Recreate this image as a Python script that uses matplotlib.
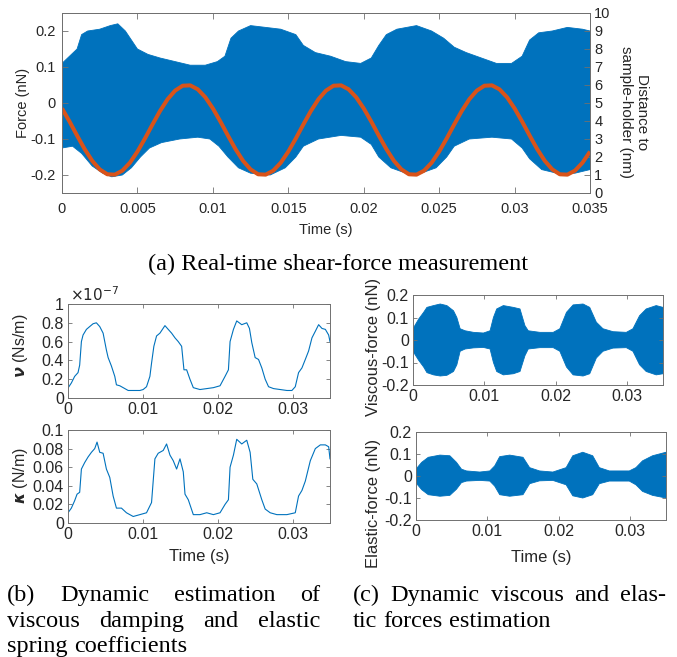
import matplotlib
matplotlib.use('Agg')
import matplotlib.pyplot as plt
from matplotlib.ticker import FormatStrFormatter
import numpy as np

BLUE = '#0072BD'
ORANGE = '#D95319'
SPINE = '#707070'
TXT = '#262626'
SANS = 'Liberation Sans'
SERIF = 'Liberation Serif'

# ---------------- (a) real-time shear-force measurement ----------------
force_up_t = [0.0, 0.0005, 0.0010, 0.0013, 0.0017, 0.0025, 0.0032, 0.0037, 0.0042, 0.0046,
              0.0050, 0.0057, 0.0065, 0.0075, 0.0085, 0.0095, 0.0103, 0.0108, 0.0112, 0.0117,
              0.0125, 0.0135, 0.0145, 0.0155, 0.0160, 0.0168, 0.0178, 0.0188, 0.0198, 0.0205,
              0.0210, 0.0215, 0.0222, 0.0235, 0.0245, 0.0253, 0.0260, 0.0268, 0.0278, 0.0288,
              0.0298, 0.0305, 0.0310, 0.0316, 0.0325, 0.0335, 0.0345, 0.0350]
force_up = [0.11, 0.13, 0.15, 0.19, 0.20, 0.205, 0.215, 0.22, 0.20, 0.175,
            0.15, 0.135, 0.125, 0.115, 0.105, 0.105, 0.115, 0.13, 0.18, 0.20,
            0.215, 0.21, 0.205, 0.19, 0.16, 0.14, 0.13, 0.115, 0.11, 0.125,
            0.16, 0.19, 0.205, 0.215, 0.20, 0.18, 0.155, 0.14, 0.125, 0.11,
            0.11, 0.13, 0.175, 0.195, 0.20, 0.21, 0.205, 0.20]
force_lo_t = [0.0, 0.0007, 0.0013, 0.0020, 0.0027, 0.0033, 0.0040, 0.0046, 0.0052, 0.0058,
              0.0066, 0.0078, 0.0090, 0.0098, 0.0104, 0.0110, 0.0117, 0.0125, 0.0138, 0.0148,
              0.0155, 0.0160, 0.0170, 0.0185, 0.0198, 0.0205, 0.0210, 0.0218, 0.0228, 0.0238,
              0.0248, 0.0255, 0.0260, 0.0270, 0.0285, 0.0298, 0.0305, 0.0310, 0.0318, 0.0328,
              0.0340, 0.0350]
force_lo = [-0.125, -0.12, -0.14, -0.175, -0.195, -0.205, -0.20, -0.18, -0.15, -0.125,
            -0.11, -0.10, -0.095, -0.10, -0.12, -0.15, -0.18, -0.195, -0.20, -0.18,
            -0.15, -0.12, -0.10, -0.09, -0.095, -0.115, -0.15, -0.18, -0.195, -0.195,
            -0.18, -0.15, -0.12, -0.10, -0.095, -0.10, -0.125, -0.155, -0.185, -0.195,
            -0.195, -0.185]

dist_t = [i * 0.0005 for i in range(71)]
dist_nm = [4.70, 3.97, 3.19, 2.44, 1.79, 1.31, 1.04, 1.02, 1.24, 1.68, 2.30, 3.03, 3.81, 4.56,
           5.21, 5.69, 5.96, 5.98, 5.76, 5.32,
           4.70, 3.97, 3.19, 2.44, 1.79, 1.31, 1.04, 1.02, 1.24, 1.68, 2.30, 3.03, 3.81, 4.56,
           5.21, 5.69, 5.96, 5.98, 5.76, 5.32,
           4.70, 3.97, 3.19, 2.44, 1.79, 1.31, 1.04, 1.02, 1.24, 1.68, 2.30, 3.03, 3.81, 4.56,
           5.21, 5.69, 5.96, 5.98, 5.76, 5.32,
           4.70, 3.97, 3.19, 2.44, 1.79, 1.31, 1.04, 1.02, 1.24, 1.68, 2.30]

# ---------------- (b) viscous damping / elastic spring coefficients ----------------
nu_t = [0, .00045, .00089, .00134, .00156, .00179, .00201, .00246, .0029, .00335, .00379, .00424,
        .00469, .00513, .00536, .0058, .00625, .00647, .00692, .00737, .00804, .00871, .0096,
        .01004, .01049, .01094, .01116, .01147, .01183, .01228, .01295, .01339, .01384, .01429,
        .01473, .01518, .01549, .01585, .01629, .01674, .01763, .01853, .01942, .02031, .02098,
        .02143, .02165, .0221, .02254, .02321, .02388, .02424, .02455, .025, .02545, .02589,
        .02634, .02679, .02746, .02835, .02924, .02991, .03036, .0308, .03125, .0317, .03214,
        .03259, .03304, .03348, .03393, .03438, .03482, .035]
nu_e7 = [.106, .16, .23, .27, .35, .60, .67, .73, .76, .79, .80, .76, .69, .51, .43, .34, .23, .14,
         .13, .11, .08, .08, .08, .09, .12, .23, .37, .55, .66, .69, .77, .73, .69, .64, .60, .55,
         .30, .30, .20, .11, .09, .10, .11, .13, .23, .30, .60, .73, .82, .78, .80, .74, .59, .43,
         .41, .32, .20, .12, .10, .09, .08, .08, .12, .27, .32, .41, .50, .64, .71, .78, .74, .73,
         .67, .60]

kappa_t = [0, .00045, .00089, .00121, .00156, .00179, .00223, .00268, .00313, .00357, .00388,
           .00424, .00469, .00513, .00558, .00603, .00647, .00714, .00781, .00871, .0096, .01049,
           .01116, .01161, .01205, .01272, .01317, .01362, .01406, .01451, .01496, .0154, .01563,
           .01607, .01674, .01763, .01853, .01942, .02031, .02098, .02143, .02165, .0221, .02254,
           .02321, .02388, .02433, .02469, .02522, .02589, .02634, .02701, .0279, .02924, .03036,
           .0308, .03125, .0317, .03237, .03304, .03371, .03438, .03482, .035]
kappa = [.011, .016, .024, .031, .033, .058, .065, .071, .076, .080, .087, .076, .075, .058, .049,
         .029, .016, .016, .011, .007, .009, .011, .022, .069, .075, .078, .085, .073, .067, .058,
         .069, .055, .031, .025, .009, .009, .011, .009, .011, .020, .025, .060, .073, .090, .085,
         .089, .076, .047, .042, .025, .015, .011, .009, .009, .011, .029, .035, .045, .067, .080,
         .084, .084, .082, .069]

# ---------------- (c) viscous / elastic forces ----------------
visc_t = [0, .00079, .00149, .00195, .00288, .00381, .00474, .00567, .00614, .0066, .0073, .00847,
          .00986, .01079, .01126, .01172, .01265, .01405, .01498, .01567, .01614, .01777, .01963,
          .02056, .02149, .02242, .02381, .02474, .02567, .0266, .028, .02986, .03079, .03172,
          .03265, .03405, .035]
visc_up = [.05, .093, .123, .145, .153, .16, .153, .13, .10, .05, .041, .034, .031, .041, .10, .138,
           .153, .145, .138, .064, .041, .034, .034, .05, .123, .156, .16, .145, .079, .05, .037,
           .034, .05, .108, .138, .153, .145]
visc_lo = [-.05, -.09, -.12, -.145, -.155, -.16, -.157, -.14, -.11, -.05, -.04, -.035, -.033, -.04,
           -.1, -.14, -.155, -.15, -.14, -.07, -.04, -.034, -.034, -.05, -.12, -.155, -.16, -.15,
           -.08, -.05, -.036, -.034, -.05, -.11, -.14, -.155, -.15]

elas_t = [0, .00079, .00172, .00335, .00474, .00567, .00637, .00707, .00893, .01033, .01102,
          .01172, .01312, .01498, .01591, .0173, .01916, .02102, .02195, .02335, .02474, .02567,
          .02707, .02986, .03079, .03172, .03312, .035]
elas_up = [.031, .062, .085, .095, .092, .062, .031, .023, .018, .023, .046, .088, .095, .085, .038,
           .023, .018, .038, .092, .108, .092, .038, .023, .023, .038, .069, .092, .108]
elas_lo = [-.031, -.062, -.085, -.092, -.088, -.06, -.03, -.023, -.02, -.023, -.046, -.085, -.092,
           -.085, -.035, -.022, -.02, -.04, -.09, -.10, -.085, -.035, -.023, -.023, -.04, -.07,
           -.088, -.10]

W, H = 677, 657
fig = plt.figure(figsize=(W / 100, H / 100), dpi=100)
fig.patch.set_facecolor('white')


def px_axes(l, r, t, b):
    return fig.add_axes([l / W, 1 - b / H, (r - l) / W, (b - t) / H])


def style(ax, fs, ticklen, top=True, right=True, xpad=3, ypad=3):
    for s in ax.spines.values():
        s.set_color(SPINE)
        s.set_linewidth(0.7)
    ax.tick_params(direction='in', length=ticklen, width=0.6, color=SPINE,
                   labelsize=fs, labelcolor=TXT, top=top, right=right)
    ax.tick_params(axis='x', pad=xpad)
    ax.tick_params(axis='y', pad=ypad)
    for lab in ax.get_xticklabels() + ax.get_yticklabels():
        lab.set_family(SANS)


def envelope(ax, tu, up, tl, lo):
    xs = list(tu) + list(tl)[::-1]
    ys = list(up) + list(lo)[::-1]
    ax.fill(xs, ys, color=BLUE, lw=0.6, ec=BLUE)


fmt = FormatStrFormatter('%g')

# ---- top panel
ax = px_axes(62, 590, 13, 193)
envelope(ax, force_up_t, force_up, force_lo_t, force_lo)
ax.set_xlim(0, 0.035)
ax.set_ylim(-0.25, 0.25)
ax.set_xticks(np.arange(0, 0.0351, 0.005))
ax.set_yticks([-0.2, -0.1, 0, 0.1, 0.2])
ax.xaxis.set_major_formatter(fmt)
ax.yaxis.set_major_formatter(fmt)
style(ax, 10.5, 4, top=True, right=False, xpad=6.5, ypad=4.5)
ax.set_xlabel('Time (s)', fontsize=10.5, family=SANS, color=TXT, labelpad=5)
ax.set_ylabel('Force (nN)', fontsize=10.5, family=SANS, color=TXT)
ax.yaxis.set_label_coords(-0.061, 0.5)

ax2 = ax.twinx()
ax2.plot(dist_t, dist_nm, color=ORANGE, lw=2.9, solid_capstyle='butt')
ax2.set_ylim(0, 10)
ax2.set_yticks(range(0, 11))
ax2.set_xlim(0, 0.035)
for s in ax2.spines.values():
    s.set_color(SPINE)
    s.set_linewidth(0.7)
ax2.tick_params(direction='in', length=4, width=0.6, color=SPINE, labelsize=10.5,
                labelcolor=TXT, pad=3)
for lab in ax2.get_yticklabels():
    lab.set_family(SANS)
fig.text(634 / W, 1 - 112 / H, 'Distance to\nsample-holder (nm)', rotation=270,
         ha='center', va='center', multialignment='center', fontsize=11, family=SANS,
         color=TXT, linespacing=1.15)

# ---- (b) nu
axn = px_axes(68, 330, 304, 398)
axn.plot(nu_t, nu_e7, color=BLUE, lw=0.8)
axn.set_xlim(0, 0.035)
axn.set_ylim(0, 1)
axn.set_xticks([0, 0.01, 0.02, 0.03])
axn.set_yticks([0, 0.2, 0.4, 0.6, 0.8, 1])
axn.xaxis.set_major_formatter(fmt)
axn.yaxis.set_major_formatter(fmt)
style(axn, 11.5, 3)
fig.text(70 / W, 1 - 295 / H, r'$\times10^{-7}$', ha='left', va='center', fontsize=11,
         color=TXT)
fig.text(20 / W, 1 - 346 / H, r'$\mathbfit{\nu}$ (Ns/m)', rotation=90, ha='center',
         va='center', fontsize=11.5, family=SANS, color=TXT)

# ---- (b) kappa
axk = px_axes(68, 330, 430, 523)
axk.plot(kappa_t, kappa, color=BLUE, lw=0.8)
axk.set_xlim(0, 0.035)
axk.set_ylim(0, 0.1)
axk.set_xticks([0, 0.01, 0.02, 0.03])
axk.set_yticks([0, 0.02, 0.04, 0.06, 0.08, 0.1])
axk.xaxis.set_major_formatter(fmt)
axk.yaxis.set_major_formatter(fmt)
style(axk, 11.5, 3)
axk.set_xlabel('Time (s)', fontsize=12, family=SANS, color=TXT, labelpad=5)
fig.text(20 / W, 1 - 476 / H, r'$\mathbfit{\kappa}$ (N/m)', rotation=90, ha='center',
         va='center', fontsize=11.5, family=SANS, color=TXT)

# ---- (c) viscous force
axv = px_axes(413, 663, 295, 385)
envelope(axv, visc_t, visc_up, visc_t, visc_lo)
axv.set_xlim(0, 0.035)
axv.set_ylim(-0.2, 0.2)
axv.set_xticks([0, 0.01, 0.02, 0.03])
axv.set_yticks([-0.2, -0.1, 0, 0.1, 0.2])
axv.xaxis.set_major_formatter(fmt)
axv.yaxis.set_major_formatter(fmt)
style(axv, 11.5, 3)
fig.text(373.5 / W, 1 - 347 / H, 'Viscous-force (nN)', rotation=90, ha='center',
         va='center', fontsize=12, family=SANS, color=TXT)

# ---- (c) elastic force
axe = px_axes(416, 666, 432, 520)
envelope(axe, elas_t, elas_up, elas_t, elas_lo)
axe.set_xlim(0, 0.035)
axe.set_ylim(-0.2, 0.2)
axe.set_xticks([0, 0.01, 0.02, 0.03])
axe.set_yticks([-0.2, -0.1, 0, 0.1, 0.2])
axe.xaxis.set_major_formatter(fmt)
axe.yaxis.set_major_formatter(fmt)
style(axe, 11.5, 3)
axe.set_xlabel('Time (s)', fontsize=12, family=SANS, color=TXT, labelpad=8)
fig.text(373.5 / W, 1 - 503 / H, 'Elastic-force (nN)', rotation=90, ha='center',
         va='center', fontsize=12, family=SANS, color=TXT)

# ---------------- captions ----------------
CAP_FS = 17.5
renderer = fig.canvas.get_renderer()


def line(words, x0, x1, y, justify=True):
    texts = [fig.text(0, 1 - y / H, w, fontsize=CAP_FS, family=SERIF, color='black',
                      ha='left', va='baseline') for w in words]
    widths = [t.get_window_extent(renderer).width for t in texts]
    if justify and len(words) > 1:
        gap = (x1 - x0 - sum(widths)) / (len(words) - 1)
    else:
        gap = CAP_FS * 0.25 * 100 / 72
    x = x0
    for t, w in zip(texts, widths):
        t.set_x(x / W)
        x += w + gap


cap_a = fig.text(338 / W, 1 - 270 / H, '(a) Real-time shear-force measurement',
                 fontsize=CAP_FS, family=SERIF, ha='center', va='baseline')

line(['(b)', 'Dynamic', 'estimation', 'of'], 7, 320, 601)
line(['viscous', 'damping', 'and', 'elastic'], 7, 320, 627)
line(['spring', 'coefficients'], 7, 320, 652, justify=False)
line(['(c)', 'Dynamic', 'viscous', 'and', 'elas-'], 353, 666, 601)
line(['tic', 'forces', 'estimation'], 353, 666, 627, justify=False)

fig.savefig('out.png', dpi=100, facecolor='white')
